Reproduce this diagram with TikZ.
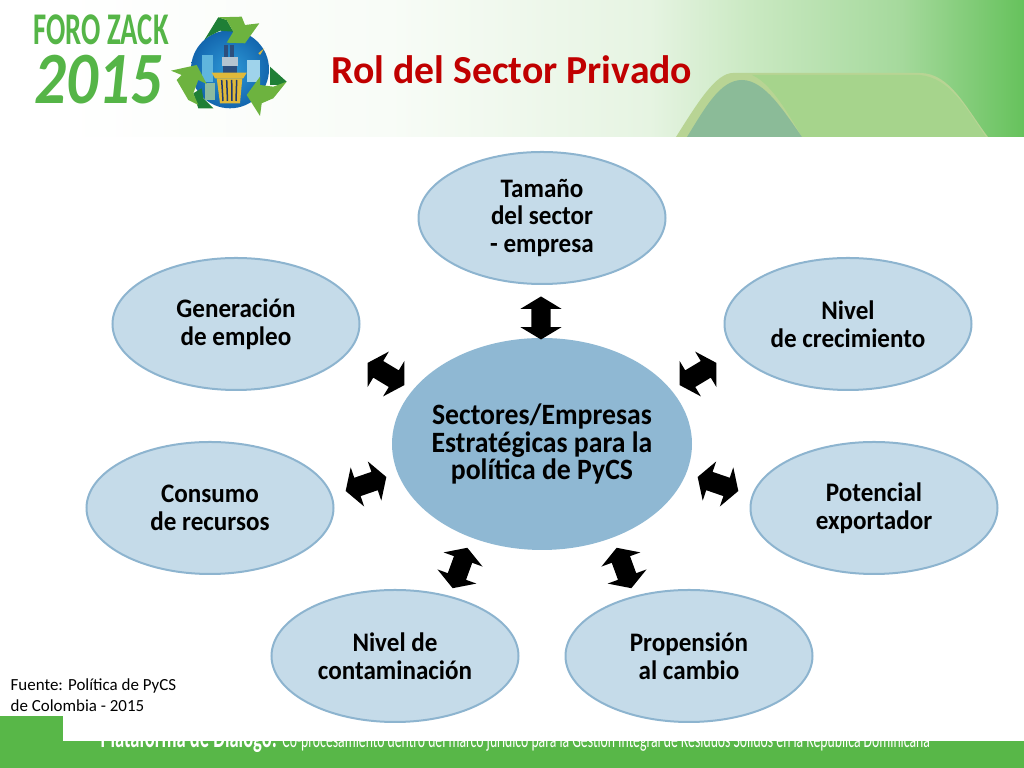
\documentclass[tikz,border=0pt]{standalone}
\usepackage{fontspec}
\usepackage{tikz}
\usetikzlibrary{shapes.geometric,shapes.arrows}
\setmainfont{Carlito}
\newfontfamily\footfont[FakeStretch=0.62]{Carlito}
\newfontfamily\logofont[FakeStretch=0.63]{Carlito}
\newfontfamily\yearfont[FakeStretch=0.85]{Carlito}
\newfontfamily\bubblefont[FakeStretch=0.94]{Carlito}

\definecolor{bandgreen}{HTML}{58B748}
\definecolor{logogreen}{HTML}{55B547}
\definecolor{hubblue}{HTML}{8FB8D3}
\definecolor{paleblue}{HTML}{C5DBE9}
\definecolor{rimblue}{HTML}{8DB4CF}
\definecolor{titlered}{HTML}{C00000}
\definecolor{shadez}{HTML}{F8FCF7}
\definecolor{shadea}{HTML}{E6F4E2}
\definecolor{shadeb}{HTML}{C8E8C0}
\definecolor{shadec}{HTML}{A5D99C}
\definecolor{shaded}{HTML}{66C25C}
\definecolor{hillouter}{HTML}{B8D494}
\definecolor{hillband}{HTML}{A6D48C}
\definecolor{hillteal}{HTML}{8BBB98}
\definecolor{globeblue}{HTML}{2E9AD8}
\definecolor{globedeep}{HTML}{1366AE}
\definecolor{skyblue}{HTML}{5FB5DD}
\definecolor{landgreen}{HTML}{8CBBA0}
\definecolor{stackblue}{HTML}{2D4E7C}
\definecolor{blockgrey}{HTML}{B5C4D0}
\definecolor{binyellow}{HTML}{E0B93A}
\definecolor{binslat}{HTML}{203A70}
\definecolor{leaflight}{HTML}{6DB33F}
\definecolor{leafdark}{HTML}{1F7F36}

\pgfdeclarehorizontalshading{bannershade}{100bp}{
	color(0bp)=(white);
	color(28bp)=(white);
	color(44bp)=(shadez);
	color(56.7bp)=(shadea);
	color(62bp)=(shadeb);
	color(69bp)=(shadec);
	color(75bp)=(shaded);
	color(100bp)=(shaded)}

\tikzset{
	topic/.style={ellipse,draw=rimblue,line width=0.02cm,fill=paleblue,minimum width=2.47cm,minimum height=1.32cm,inner sep=0pt,align=center,text=black,font=\bubblefont\fontsize{7.6}{7.95}\selectfont\bfseries},
	hub/.style={ellipse,fill=hubblue,minimum width=3cm,minimum height=2.12cm,inner xsep=-0.07cm,inner ysep=0pt,align=center,text=black,font=\bubblefont\fontsize{8.4}{7.8}\selectfont\bfseries},
	link/.style={double arrow,fill=black,inner xsep=0pt,inner ysep=0.09cm,minimum height=0.43cm,minimum width=0.4cm,double arrow head extend=0.11cm,double arrow tip angle=118}
}

\begin{document}
\begin{tikzpicture}
	\useasboundingbox (0,0) rectangle (10.24,7.68);

	% Banner
	\shade[shading=bannershade] (0,6.31) rectangle (10.24,7.68);
	\fill[hillouter] (6.76,6.31) .. controls (6.98,6.66) and (7.16,6.95) .. (7.33,6.95) -- (9.2,6.95) .. controls (9.5,6.95) and (9.66,6.6) .. (9.88,6.31) -- cycle;
	\fill[hillband] (7.52,6.93) -- (9.2,6.93) .. controls (9.5,6.9) and (9.66,6.6) .. (9.86,6.31) -- (8.02,6.31) .. controls (7.85,6.6) and (7.7,6.85) .. (7.52,6.93);
	\fill[hillteal] (6.87,6.31) .. controls (7.05,6.6) and (7.2,6.88) .. (7.42,6.88) .. controls (7.65,6.88) and (7.85,6.55) .. (8.02,6.31) -- cycle;

	% Logo
	\node[anchor=west,inner sep=0pt,text=logogreen,font=\logofont\fontsize{12.9}{13}\selectfont\bfseries] (foro) at (0.33,7.38) {FORO ZACK};
	\node[anchor=west,inner sep=0pt,text=logogreen,font=\yearfont\fontsize{21}{21}\selectfont\bfseries\itshape] (year) at (0.34,6.88) {2015};
	\shade[inner color=globeblue,outer color=globedeep] (2.3,6.987) circle (0.39);
	\fill[skyblue] (2.017,7.13) rectangle (2.133,6.863);
	\fill[landgreen] (2.05,6.847) rectangle (2.15,6.68);
	\fill[skyblue!60] (2.467,7.08) rectangle (2.6,6.863);
	\fill[binyellow] (2.583,7.147) -- (2.643,7.197) -- (2.6,7.13) -- cycle;
	\fill[stackblue] (2.243,7.23) rectangle (2.283,7.113);
	\fill[stackblue] (2.3,7.23) rectangle (2.34,7.113);
	\fill[blockgrey] (2.217,7.113) rectangle (2.377,7.02);
	\fill[stackblue] (2.233,7.02) rectangle (2.367,6.953);
	\fill[binyellow] (2.117,6.953) -- (2.467,6.953) -- (2.433,6.897) -- (2.15,6.897) -- cycle;
	\fill[binyellow] (2.167,6.897) -- (2.423,6.897) -- (2.4,6.647) -- (2.2,6.647) -- cycle;
	\draw[binslat,line width=0.015cm] (2.217,6.88) -- (2.23,6.67) (2.267,6.88) -- (2.275,6.67) (2.317,6.88) -- (2.32,6.67) (2.367,6.88) -- (2.36,6.67);
	% recycling arrows
	\fill[leafdark] (2.043,7.28) -- (2.183,7.507) -- (2.267,7.48) -- (2.333,7.363) -- (2.2,7.373) -- (2.083,7.313) -- cycle;
	\fill[leaflight] (2.183,7.507) -- (2.417,7.513) -- (2.45,7.43) -- (2.593,7.447) -- (2.45,7.247) -- (2.267,7.253) -- (2.333,7.363) -- (2.267,7.48) -- cycle;
	\fill[leafdark] (2.7,7.013) -- (2.867,6.863) -- (2.8,6.83) -- (2.7,6.83) -- cycle;
	\fill[leaflight] (2.867,6.863) -- (2.733,6.697) -- (2.617,6.647) -- (2.6,6.52) -- (2.467,6.73) -- (2.6,6.913) -- (2.6,6.83) -- (2.733,6.813) -- cycle;
	\fill[leafdark] (1.933,6.747) -- (1.983,6.597) -- (2.133,6.597) -- (2.033,6.697) -- (2.017,6.797) -- cycle;
	\fill[leaflight] (1.71,6.973) -- (1.967,7.03) -- (2.067,6.84) -- (1.983,6.88) -- (1.933,6.747) -- (1.983,6.63) -- (1.883,6.68) -- (1.767,6.88) -- (1.817,6.93) -- cycle;

	% Title
	\node[inner sep=0pt,text=titlered,font=\fontsize{11.3}{12}\selectfont\bfseries] (title) at (5.12,6.98) {Rol del Sector Privado};

	% Footer
	\fill[bandgreen] (0,0) rectangle (10.24,0.27);
	\node[inner sep=0pt,anchor=base west,text=white] (band) at (1,0.205) {\footfont\fontsize{8.5}{9}\selectfont\bfseries Plataforma de Diálogo: \mdseries\fontsize{6.3}{9}\selectfont Co-procesamiento dentro del marco jurídico para la Gestión Integral de Residuos Sólidos en la República Dominicana};
	\fill[white] (0.63,0.27) rectangle (10.24,0.6);
	\fill[bandgreen] (0,0.27) rectangle (0.63,0.52);

	% Ellipses
	\node[hub] (sectores) at (5.42,3.24) {Sectores/Empresas\\Estratégicas para la\\política de PyCS};
	\node[topic] (tamano) at (5.42,5.5) {Tamaño\\del sector\\- empresa};
	\node[topic] (empleo) at (2.36,4.44) {Generación\\de empleo};
	\node[topic] (crecimiento) at (8.48,4.44) {Nivel\\de crecimiento};
	\node[topic] (recursos) at (2.1,2.6) {Consumo\\de recursos};
	\node[topic] (exportador) at (8.74,2.6) {Potencial\\exportador};
	\node[topic] (contaminacion) at (3.95,1.12) {Nivel de\\contaminación};
	\node[topic] (cambio) at (6.89,1.12) {Propensión\\al cambio};

	% Arrows
	\node[link,rotate=90] (toTamano) at (5.41,4.5) {};
	\node[link,rotate=-31] (toEmpleo) at (3.86,3.94) {};
	\node[link,rotate=31] (toCrecimiento) at (6.98,3.94) {};
	\node[link,rotate=19] (toRecursos) at (3.66,2.84) {};
	\node[link,rotate=-19] (toExportador) at (7.18,2.84) {};
	\node[link,rotate=70] (toContaminacion) at (4.6,2) {};
	\node[link,rotate=110] (toCambio) at (6.24,2) {};

	% Source
	\node[inner sep=0pt,anchor=north west,align=left,font=\fontsize{4.82}{5.9}\selectfont] (fuente) at (0.1,0.9) {Fuente: Política de PyCS\\de Colombia - 2015};
\end{tikzpicture}
\end{document}
